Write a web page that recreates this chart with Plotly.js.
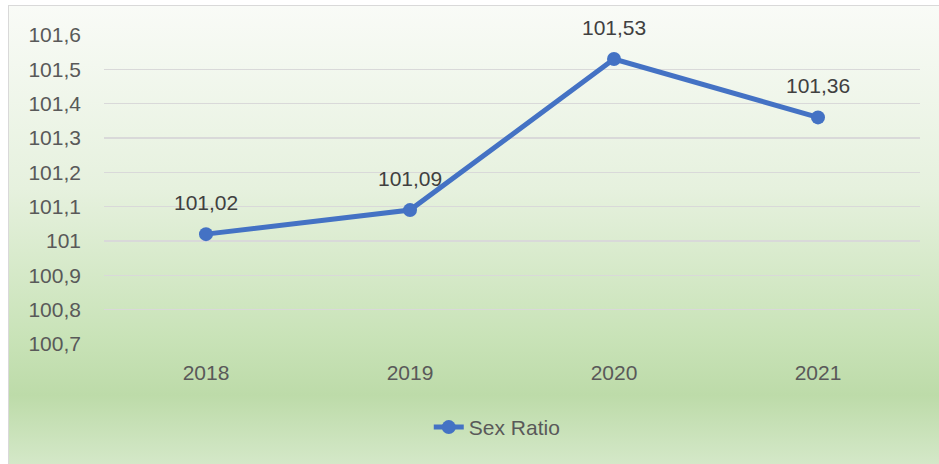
<!DOCTYPE html>
<html>
<head>
<meta charset="utf-8">
<script src="https://cdn.plot.ly/plotly-3.0.1.min.js"></script>
<style>
  html, body { margin: 0; padding: 0; background: #ffffff; width: 939px; height: 464px; overflow: hidden; }
  #chart {
    position: absolute; left: 8px; top: 5px; width: 931px; height: 459px;
    border-left: 1.5px solid #d9d9d9; border-top: 1.5px solid #d9d9d9;
    box-sizing: border-box;
    background: linear-gradient(to bottom, #f9fbf7 0%, #e6f1de 40%, #c9e3b8 72%, #bddba9 85%, #d4e8c8 100%);
  }
</style>
</head>
<body>
<div id="chart"></div>
<script>
const years = ['2018', '2019', '2020', '2021'];
const sexRatio = [101.02, 101.09, 101.53, 101.36];
const dataLabels = ['101,02', '101,09', '101,53', '101,36'];
const yTickVals = [100.7, 100.8, 100.9, 101.0, 101.1, 101.2, 101.3, 101.4, 101.5, 101.6];
const yTickLabels = ['100,7', '100,8', '100,9', '101', '101,1', '101,2', '101,3', '101,4', '101,5', '101,6'];
const seriesName = 'Sex Ratio';

const FONT = 'Liberation Sans, Arial, sans-serif';
const blue = '#4472C4';

const trace = {
  x: years, y: sexRatio, type: 'scatter', mode: 'lines+markers',
  name: seriesName,
  line: { color: blue, width: 5 },
  marker: { color: blue, size: 14 },
  hoverinfo: 'skip'
};

const annotations = years.map((yr, i) => ({
  x: i, y: sexRatio[i], xref: 'x', yref: 'y',
  text: dataLabels[i], showarrow: false, yshift: 32,
  font: { family: FONT, size: 21, color: '#404040' }
}));

const layout = {
  width: 931, height: 459,
  margin: { l: 95, r: 20, t: 29, b: 121 },
  paper_bgcolor: 'rgba(0,0,0,0)', plot_bgcolor: 'rgba(0,0,0,0)',
  font: { family: FONT, size: 21, color: '#595959' },
  showlegend: true,
  legend: {
    orientation: 'h', x: 0.398, xanchor: 'left', y: -0.27, yanchor: 'middle',
    font: { family: FONT, size: 21, color: '#595959' },
    bgcolor: 'rgba(0,0,0,0)'
  },
  xaxis: {
    type: 'category', categoryorder: 'array', categoryarray: years,
    range: [-0.5, years.length - 0.5], autorange: false,
    showgrid: false, zeroline: false, showline: false,
    ticks: '', ticklabelstandoff: 14, fixedrange: true
  },
  yaxis: {
    range: [100.7, 101.6], autorange: false, tickmode: 'array', tickvals: yTickVals, ticktext: yTickLabels,
    showgrid: true, gridcolor: '#d9d9d9', gridwidth: 1.5, zeroline: false, showline: false,
    ticks: '', ticklabelstandoff: 22, fixedrange: true
  },
  annotations: annotations
};

Plotly.newPlot('chart', [trace], layout, { displayModeBar: false, staticPlot: true });
</script>
</body>
</html>
